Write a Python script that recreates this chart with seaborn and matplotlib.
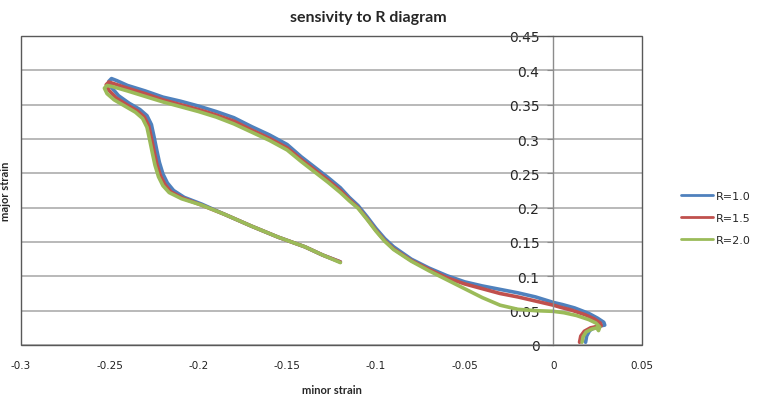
import numpy as np
import pandas as pd
import matplotlib
matplotlib.use('Agg')
import matplotlib.pyplot as plt
from matplotlib.patches import Rectangle
import seaborn as sns

# strain paths (minor strain, major strain)
r10_minor = [0.0182, 0.0188, 0.0205, 0.0235, 0.0270, 0.0290, 0.0285, 0.0250, 0.0200, 0.0120,
             0.0050, 0.0000, -0.0100, -0.0200, -0.0300, -0.0400, -0.0500, -0.0600, -0.0700, -0.0800,
             -0.0900, -0.0950, -0.1000, -0.1050, -0.1100, -0.1150, -0.1200, -0.1270, -0.1350, -0.1420,
             -0.1500, -0.1600, -0.1700, -0.1800, -0.1900, -0.2000, -0.2100, -0.2200, -0.2300, -0.2400,
             -0.2460, -0.2490, -0.2505, -0.2490, -0.2450, -0.2390, -0.2330, -0.2290, -0.2265, -0.2250,
             -0.2235, -0.2220, -0.2200, -0.2175, -0.2140, -0.2080, -0.1980, -0.1850, -0.1700, -0.1550,
             -0.1400, -0.1300, -0.1200]
r10_major = [0.004, 0.013, 0.021, 0.026, 0.028, 0.029, 0.033, 0.039, 0.046, 0.054,
             0.059, 0.062, 0.070, 0.076, 0.081, 0.086, 0.092, 0.101, 0.112, 0.125,
             0.143, 0.155, 0.170, 0.187, 0.203, 0.215, 0.229, 0.244, 0.260, 0.274,
             0.292, 0.306, 0.318, 0.331, 0.340, 0.348, 0.355, 0.361, 0.370, 0.378,
             0.385, 0.388, 0.384, 0.375, 0.363, 0.352, 0.343, 0.334, 0.321, 0.303,
             0.284, 0.266, 0.249, 0.236, 0.225, 0.215, 0.205, 0.190, 0.173, 0.157,
             0.143, 0.131, 0.121]

r15_minor = [0.0148, 0.0155, 0.0175, 0.0210, 0.0250, 0.0270, 0.0265, 0.0230, 0.0180, 0.0100,
             0.0040, 0.0000, -0.0100, -0.0200, -0.0300, -0.0400, -0.0500, -0.0600, -0.0700, -0.0800,
             -0.0900, -0.0950, -0.1000, -0.1050, -0.1100, -0.1150, -0.1200, -0.1270, -0.1350, -0.1420,
             -0.1500, -0.1600, -0.1700, -0.1800, -0.1900, -0.2000, -0.2100, -0.2200, -0.2300, -0.2400,
             -0.2470, -0.2505, -0.2520, -0.2505, -0.2465, -0.2405, -0.2345, -0.2305, -0.2280, -0.2265,
             -0.2250, -0.2235, -0.2215, -0.2190, -0.2155, -0.2090, -0.1985, -0.1850, -0.1700, -0.1550,
             -0.1400, -0.1300, -0.1200]
r15_major = [0.004, 0.013, 0.020, 0.025, 0.027, 0.028, 0.032, 0.038, 0.044, 0.051,
             0.055, 0.058, 0.064, 0.070, 0.075, 0.082, 0.089, 0.098, 0.110, 0.123,
             0.140, 0.152, 0.167, 0.184, 0.200, 0.212, 0.225, 0.240, 0.256, 0.270,
             0.287, 0.301, 0.313, 0.326, 0.335, 0.343, 0.350, 0.357, 0.366, 0.374,
             0.380, 0.383, 0.379, 0.371, 0.360, 0.350, 0.341, 0.332, 0.319, 0.301,
             0.282, 0.264, 0.247, 0.234, 0.223, 0.214, 0.204, 0.190, 0.173, 0.157,
             0.143, 0.131, 0.121]

r20_minor = [0.0162, 0.0168, 0.0185, 0.0215, 0.0245, 0.0255, 0.0262, 0.0240, 0.0200, 0.0130,
             0.0060, 0.0000, -0.0100, -0.0200, -0.0300, -0.0400, -0.0500, -0.0600, -0.0700, -0.0800,
             -0.0900, -0.0950, -0.1000, -0.1050, -0.1100, -0.1150, -0.1200, -0.1270, -0.1350, -0.1420,
             -0.1500, -0.1600, -0.1700, -0.1800, -0.1900, -0.2000, -0.2100, -0.2200, -0.2300, -0.2400,
             -0.2480, -0.2515, -0.2530, -0.2515, -0.2475, -0.2415, -0.2355, -0.2315, -0.2290, -0.2275,
             -0.2260, -0.2245, -0.2225, -0.2200, -0.2165, -0.2095, -0.1985, -0.1850, -0.1700, -0.1550,
             -0.1400, -0.1300, -0.1200]
r20_major = [0.004, 0.012, 0.019, 0.023, 0.025, 0.021, 0.026, 0.032, 0.037, 0.043,
             0.047, 0.049, 0.050, 0.052, 0.058, 0.069, 0.082, 0.095, 0.108, 0.122,
             0.139, 0.151, 0.166, 0.183, 0.199, 0.210, 0.222, 0.237, 0.253, 0.267,
             0.284, 0.298, 0.310, 0.322, 0.332, 0.340, 0.347, 0.354, 0.362, 0.370,
             0.376, 0.378, 0.374, 0.366, 0.357, 0.348, 0.339, 0.330, 0.317, 0.299,
             0.280, 0.262, 0.245, 0.232, 0.222, 0.213, 0.204, 0.190, 0.173, 0.157,
             0.143, 0.131, 0.120]

series_names = ['R=1.0', 'R=1.5', 'R=2.0']
colors = ['#4F81BD', '#C0504D', '#9BBB59']

x_ticks = [-0.3, -0.25, -0.2, -0.15, -0.1, -0.05, 0, 0.05]
x_labels = ['-0.3', '-0.25', '-0.2', '-0.15', '-0.1', '-0.05', '0', '0.05']
y_ticks = [0, 0.05, 0.1, 0.15, 0.2, 0.25, 0.3, 0.35, 0.4, 0.45]
y_labels = ['0', '0.05', '0.1', '0.15', '0.2', '0.25', '0.3', '0.35', '0.4', '0.45']

frames = []
for name, xs, ys in zip(series_names,
                        [r10_minor, r15_minor, r20_minor],
                        [r10_major, r15_major, r20_major]):
    d = pd.DataFrame({'minor strain': xs, 'major strain': ys})
    d['R'] = name
    frames.append(d)
df = pd.concat(frames, ignore_index=True)

sns.set_style('white')
plt.rcParams['font.family'] = ['DejaVu Sans']

fig = plt.figure(figsize=(7.57, 4.02), dpi=100)
ax = fig.add_axes([21 / 757, 1 - 346 / 402, 621 / 757, 309 / 402])

sns.lineplot(data=df, x='minor strain', y='major strain', hue='R', sort=False,
             estimator=None, palette=colors, linewidth=2.6, ax=ax)

ax.set_xlim(-0.3, 0.05)
ax.set_ylim(0, 0.45)
ax.set_xticks(x_ticks)
ax.set_xticklabels(x_labels, fontsize=7.5, color='#222222')
ax.set_yticks(y_ticks)
ax.set_yticklabels(y_labels, fontsize=7.5, color='#222222')

# horizontal gridlines only
ax.yaxis.grid(True, color='#A6A6A6', linewidth=1.1)
ax.xaxis.grid(False)
ax.set_axisbelow(True)

# value axis crosses at minor strain = 0
for s in ['top', 'right', 'bottom']:
    ax.spines[s].set_visible(False)
ax.spines['left'].set_position(('data', 0))
ax.spines['left'].set_color('#8C8C8C')
ax.spines['left'].set_linewidth(1.0)
ax.tick_params(axis='y', length=4, width=0.8, color='#8C8C8C', pad=6, direction='out', left=True)
ax.tick_params(axis='x', length=0, pad=11, bottom=True)

ax.add_patch(Rectangle((0, 0), 1, 1, transform=ax.transAxes, fill=False,
                       edgecolor='#595959', linewidth=1.0, clip_on=False, zorder=6))

ax.set_xlabel('minor strain', fontsize=8, fontweight='bold', family='Lato', labelpad=10)
ax.set_ylabel('major strain', fontsize=8, fontweight='bold', family='Lato')
ax.yaxis.set_label_coords(-0.016, 0.5)

fig.text(0.487, 1 - 18 / 402, 'sensivity to R diagram', ha='center', va='center',
         fontsize=11.5, fontweight='bold', family='Lato')

leg = ax.legend(title=None, loc='center left', bbox_to_anchor=(675 / 757, 1 - 219 / 402),
                bbox_transform=fig.transFigure, frameon=False, fontsize=8,
                handlelength=2.9, handletextpad=0.25, labelspacing=1.05, borderpad=0)
for line in leg.get_lines():
    line.set_linewidth(2.0)

fig.savefig('out.png', dpi=100)
